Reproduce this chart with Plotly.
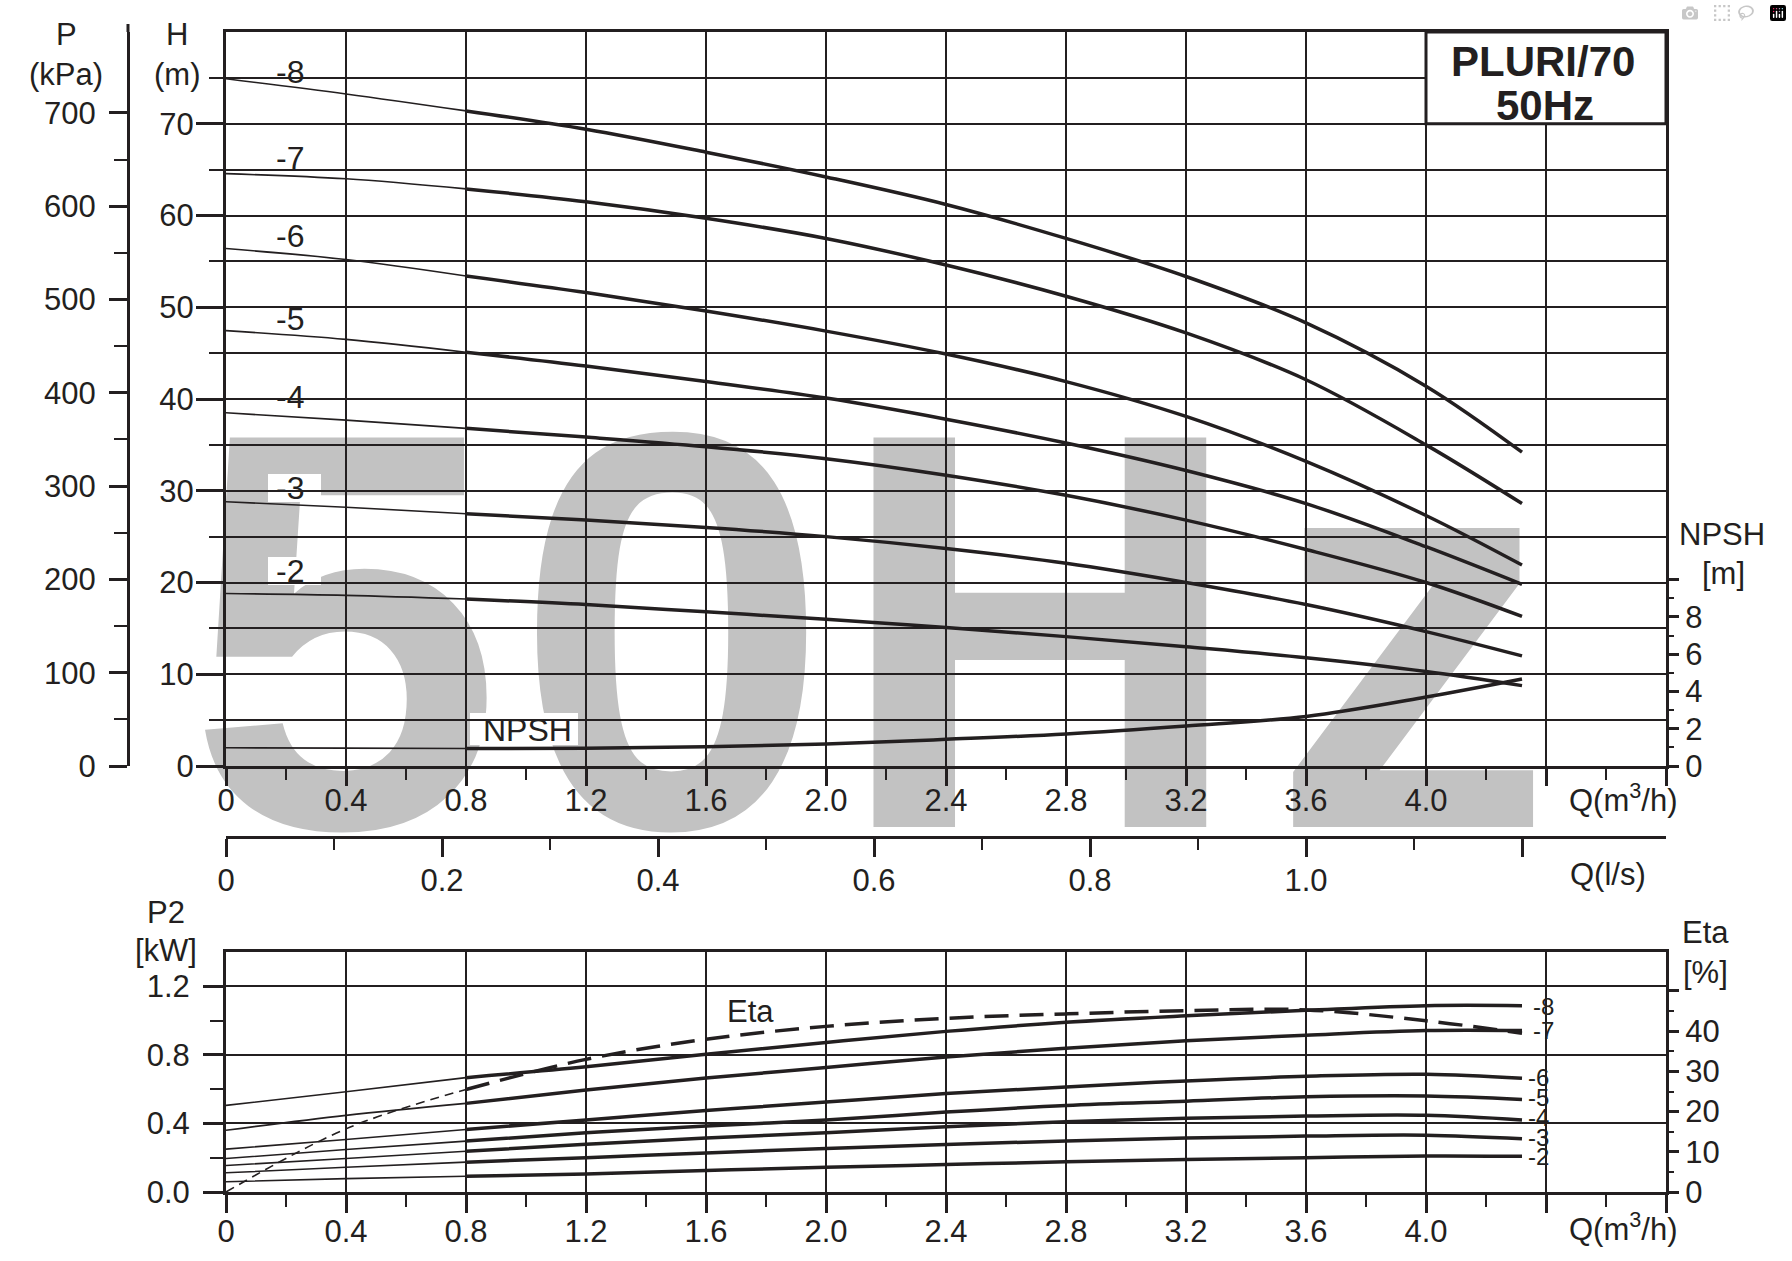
import plotly.graph_objects as go

W, HP = 1792, 1261
INK = "#231f20"
GRAY = "#c2c2c2"
FONT = "Liberation Sans, Arial, sans-serif"

# ---------------- data ----------------
Q = [0, 0.4, 0.8, 1.2, 1.6, 2.0, 2.4, 2.8, 3.2, 3.6, 4.0, 4.32]   # m3/h

stages = ["-8", "-7", "-6", "-5", "-4", "-3", "-2"]

H_8 = [74.9, 73.25, 71.4, 69.4, 66.9, 64.2, 61.2, 57.5, 53.35, 48.3, 41.4, 34.2]
H_7 = [64.56, 64.0, 62.9, 61.5, 59.7, 57.5, 54.6, 51.2, 47.2, 42.1, 35.0, 28.6]
H_6 = [56.4, 55.2, 53.4, 51.6, 49.6, 47.4, 44.9, 41.9, 38.1, 33.2, 27.3, 21.9]
H_5 = [47.45, 46.5, 45.1, 43.6, 41.9, 40.1, 37.8, 35.2, 32.2, 28.6, 23.9, 19.8]
H_4 = [38.5, 37.7, 36.8, 35.85, 34.8, 33.5, 31.7, 29.5, 26.8, 23.6, 20.0, 16.3]
H_3 = [28.8, 28.2, 27.5, 26.8, 26.0, 25.0, 23.7, 22.1, 20.0, 17.6, 14.65, 12.0]
H_2 = [18.8, 18.6, 18.2, 17.6, 16.8, 16.0, 15.1, 14.1, 13.0, 11.8, 10.3, 8.76]

NPSH = [0.98, 0.96, 0.94, 0.95, 1.03, 1.18, 1.43, 1.72, 2.15, 2.66, 3.7, 4.67]

P2_8 = [0.505, 0.585, 0.667, 0.73, 0.804, 0.872, 0.937, 0.99, 1.028, 1.06, 1.087, 1.087]
P2_7 = [0.36, 0.447, 0.517, 0.595, 0.665, 0.726, 0.788, 0.839, 0.882, 0.915, 0.942, 0.942]
P2_6 = [0.25, 0.306, 0.365, 0.42, 0.475, 0.525, 0.574, 0.613, 0.648, 0.675, 0.687, 0.663]
P2_5 = [0.195, 0.248, 0.297, 0.345, 0.385, 0.42, 0.466, 0.505, 0.53, 0.555, 0.56, 0.54]
P2_4 = [0.155, 0.195, 0.238, 0.278, 0.315, 0.345, 0.38, 0.41, 0.43, 0.443, 0.447, 0.42]
P2_3 = [0.112, 0.144, 0.174, 0.2, 0.228, 0.254, 0.277, 0.298, 0.315, 0.326, 0.331, 0.31]
P2_2 = [0.06, 0.078, 0.092, 0.105, 0.125, 0.144, 0.16, 0.176, 0.189, 0.2, 0.21, 0.208]

ETA = [0, 15.7, 25.5, 33.0, 38.0, 41.2, 43.2, 44.3, 45.1, 45.3, 42.6, 39.5]

q_tickvals = [0, 0.4, 0.8, 1.2, 1.6, 2.0, 2.4, 2.8, 3.2, 3.6, 4.0, 4.4, 4.8]
q_ticktext = ["0", "0.4", "0.8", "1.2", "1.6", "2.0", "2.4", "2.8", "3.2", "3.6", "4.0", "", ""]
q_minor = [0.2, 0.6, 1.0, 1.4, 1.8, 2.2, 2.6, 3.0, 3.4, 3.8, 4.2, 4.6]
ls_tickvals = [0, 0.2, 0.4, 0.6, 0.8, 1.0, 1.2]
ls_ticktext = ["0", "0.2", "0.4", "0.6", "0.8", "1.0", ""]
ls_minor = [0.1, 0.3, 0.5, 0.7, 0.9, 1.1]
h_tickvals = [0, 10, 20, 30, 40, 50, 60, 70]
h_minor = [5, 15, 25, 35, 45, 55, 65, 75]
p_tickvals = [0, 100, 200, 300, 400, 500, 600, 700]
p_minor = [50, 150, 250, 350, 450, 550, 650]
npsh_tickvals = [0, 2, 4, 6, 8, 10]
npsh_ticktext = ["0", "2", "4", "6", "8", ""]
npsh_minor = [1, 3, 5, 7, 9]
p2_tickvals = [0, 0.4, 0.8, 1.2]
p2_ticktext = ["0.0", "0.4", "0.8", "1.2"]
p2_minor = [0.2, 0.6, 1.0]
eta_tickvals = [0, 10, 20, 30, 40, 50]
eta_ticktext = ["0", "10", "20", "30", "40", ""]
eta_minor = [5, 15, 25, 35, 45]

H_curves = [H_8, H_7, H_6, H_5, H_4, H_3, H_2]
P2_curves = [P2_8, P2_7, P2_6, P2_5, P2_4, P2_3, P2_2]


def px(x):
    return x / W


def py(y):
    return 1 - y / HP


X_DOM = [px(226), px(1666)]
Y_UP = [py(766), py(32)]
Y_LO = [py(1192), py(952)]

THIN = 1.6
THICK = 3.5
SPLIT = 2  # index of Q = 0.8 where the curves become thick

fig = go.Figure()


def add_curve(y, xa, ya, dash_thin=None, dash_thick=None):
    fig.add_trace(go.Scatter(x=Q[:SPLIT + 1], y=y[:SPLIT + 1], xaxis=xa, yaxis=ya, mode="lines",
                             line=dict(color=INK, width=THIN, shape="spline", dash=dash_thin),
                             hoverinfo="skip", showlegend=False))
    fig.add_trace(go.Scatter(x=Q[SPLIT:], y=y[SPLIT:], xaxis=xa, yaxis=ya, mode="lines",
                             line=dict(color=INK, width=THICK, shape="spline", dash=dash_thick),
                             hoverinfo="skip", showlegend=False))


for h in H_curves:
    add_curve(h, "x", "y")
add_curve(NPSH, "x", "y3")
for p in P2_curves:
    add_curve(p, "x2", "y4")
add_curve(ETA, "x2", "y5", dash_thin="9px,6px", dash_thick="24px,11px")

# dummy traces so that the secondary scales are drawn
fig.add_trace(go.Scatter(x=[0], y=[0], xaxis="x3", yaxis="y", mode="markers",
                         marker=dict(opacity=0), hoverinfo="skip", showlegend=False))
fig.add_trace(go.Scatter(x=[0], y=[0], xaxis="x", yaxis="y2", mode="markers",
                         marker=dict(opacity=0), hoverinfo="skip", showlegend=False))

tickfont = dict(family=FONT, size=31, color=INK)
base = dict(showline=True, linecolor=INK, linewidth=3, ticks="outside", tickcolor=INK,
            tickwidth=2.5, tickfont=tickfont, zeroline=False, fixedrange=True, tickmode="array")
grid = dict(showgrid=True, gridcolor=INK, gridwidth=2)
noline = {k: v for k, v in base.items() if k != "showline"}


def minor(vals, ln, grid_on=False):
    d = dict(tickmode="array", tickvals=vals, ticklen=ln, tickwidth=2.2, tickcolor=INK,
             ticks="outside", showgrid=grid_on)
    if grid_on:
        d.update(gridcolor=INK, gridwidth=2)
    return d


fig.update_layout(
    width=W, height=HP, margin=dict(l=0, r=0, t=0, b=0, autoexpand=False),
    paper_bgcolor="white", plot_bgcolor="white", showlegend=False,
    font=dict(family=FONT, size=30, color=INK),
    xaxis=dict(**base, **grid, domain=X_DOM, anchor="y", range=[0, 4.8], mirror=True,
               tickvals=q_tickvals, ticktext=q_ticktext, ticklen=17, ticklabelstandoff=-12,
               minor=minor(q_minor, 11)),
    yaxis=dict(**base, **grid, domain=Y_UP, anchor="x", range=[0, 80], mirror=True,
               tickvals=h_tickvals, ticktext=[str(v) for v in h_tickvals], ticklen=27,
               ticklabelstandoff=-4, minor=minor(h_minor, 14, True)),
    yaxis2=dict(**base, overlaying="y", anchor="free", position=px(128), side="left",
                range=[0, 786.7], showgrid=False, tickvals=p_tickvals,
                ticktext=[str(v) for v in p_tickvals], ticklen=18, ticklabelstandoff=7,
                minor=minor(p_minor, 13)),
    yaxis3=dict(**noline, showline=False, overlaying="y", anchor="x", side="right",
                range=[0, 39.4], showgrid=False, tickvals=npsh_tickvals,
                ticktext=npsh_ticktext, ticklen=12, minor=minor(npsh_minor, 7)),
    xaxis3=dict(**base, overlaying="x", anchor="free", position=py(837), side="bottom",
                range=[0, 4.8 / 3.6], showgrid=False, tickvals=ls_tickvals,
                ticktext=ls_ticktext, ticklen=18, ticklabelstandoff=-3,
                minor=minor(ls_minor, 11)),
    xaxis2=dict(**base, **grid, domain=X_DOM, anchor="y4", range=[0, 4.8], mirror=True,
                tickvals=q_tickvals, ticktext=q_ticktext, ticklen=18, ticklabelstandoff=-8,
                minor=minor(q_minor, 12)),
    yaxis4=dict(**base, **grid, domain=Y_LO, anchor="x2", range=[0, 1.4], mirror=True,
                tickvals=p2_tickvals, ticktext=p2_ticktext, ticklen=20, ticklabelstandoff=7,
                minor=minor(p2_minor, 13)),
    yaxis5=dict(**noline, showline=False, overlaying="y4", anchor="x2", side="right",
                range=[0, 59.7], showgrid=False, tickvals=eta_tickvals,
                ticktext=eta_ticktext, ticklen=12, minor=minor(eta_minor, 7)),
)

shapes = []
# big grey watermark, below the grid
WM_SIZE = 566
WM_CY = 577
for ch, cx in [("5", 345), ("0", 672), ("H", 1040), ("z", 1412)]:
    shapes.append(dict(type="rect", xref="paper", yref="paper", layer="below",
                       x0=px(cx - 220), x1=px(cx + 220), y0=py(WM_CY + 250), y1=py(WM_CY - 250),
                       line=dict(width=0), fillcolor="rgba(0,0,0,0)",
                       label=dict(text=ch, textposition="middle center", padding=0,
                                  font=dict(family=FONT, size=WM_SIZE, color=GRAY,
                                            weight="bold"))))


def mask(x0, x1, y0, y1):
    shapes.append(dict(type="rect", xref="paper", yref="paper", layer="between",
                       x0=px(x0), x1=px(x1), y0=py(y1), y1=py(y0),
                       line=dict(width=0), fillcolor="white"))


# white boxes behind the stage labels that sit on grid lines
for yc in [72, 319, 397, 488, 571]:
    mask(268, 321, yc - 14, yc + 14)
mask(470, 578, 713, 745)
mask(1527, 1560, 989, 1172)

# model box
shapes.append(dict(type="rect", xref="x", yref="y", layer="above", x0=4.0, x1=4.8, y0=70, y1=80,
                   line=dict(color=INK, width=3), fillcolor="white"))
# top stub of the kPa scale line
shapes.append(dict(type="line", xref="paper", yref="paper", x0=px(128), x1=px(128),
                   y0=py(32), y1=py(24), line=dict(color=INK, width=3)))
fig.update_layout(shapes=shapes)

ann = []


def label(text, x, y, size=30, bold=False):
    ann.append(dict(text=text, x=px(x), y=py(y), xref="paper", yref="paper", showarrow=False,
                    xanchor="center", yanchor="middle",
                    font=dict(family=FONT, size=size, color=INK,
                              weight="bold" if bold else "normal")))


label("P", 66, 34, 31)
label("(kPa)", 66, 74, 31)
label("H", 177, 34, 31)
label("(m)", 177, 74, 31)
label("NPSH", 1722, 534, 31)
label("[m]", 1723, 574, 31)
label("Q(m<sup>3</sup>/h)", 1623, 798, 31)
label("Q(l/s)", 1608, 874, 31)
label("P2", 166, 912, 31)
label("[kW]", 166, 950, 31)
label("Eta", 1705, 932, 31)
label("[%]", 1705, 972, 31)
label("Q(m<sup>3</sup>/h)", 1623, 1227, 31)
label("Eta", 750, 1011, 31)
label("NPSH", 527, 729.5, 32)
label("PLURI/70", 1543, 61.7, 42, True)
label("50Hz", 1544.5, 105, 42, True)

for s, yc in zip(stages, [72, 157.5, 236, 319, 397, 488, 571]):
    label(s, 289.5, yc, 32)
for s, xc, yc in zip(stages, [1543, 1543, 1538, 1538, 1538, 1538, 1538],
                     [1006, 1030, 1077, 1097, 1117, 1137, 1156]):
    label(s, xc, yc, 24)

fig.update_layout(annotations=ann)

fig.write_html("out.html", post_script="document.body.style.margin='0';document.body.style.overflow='hidden';")
